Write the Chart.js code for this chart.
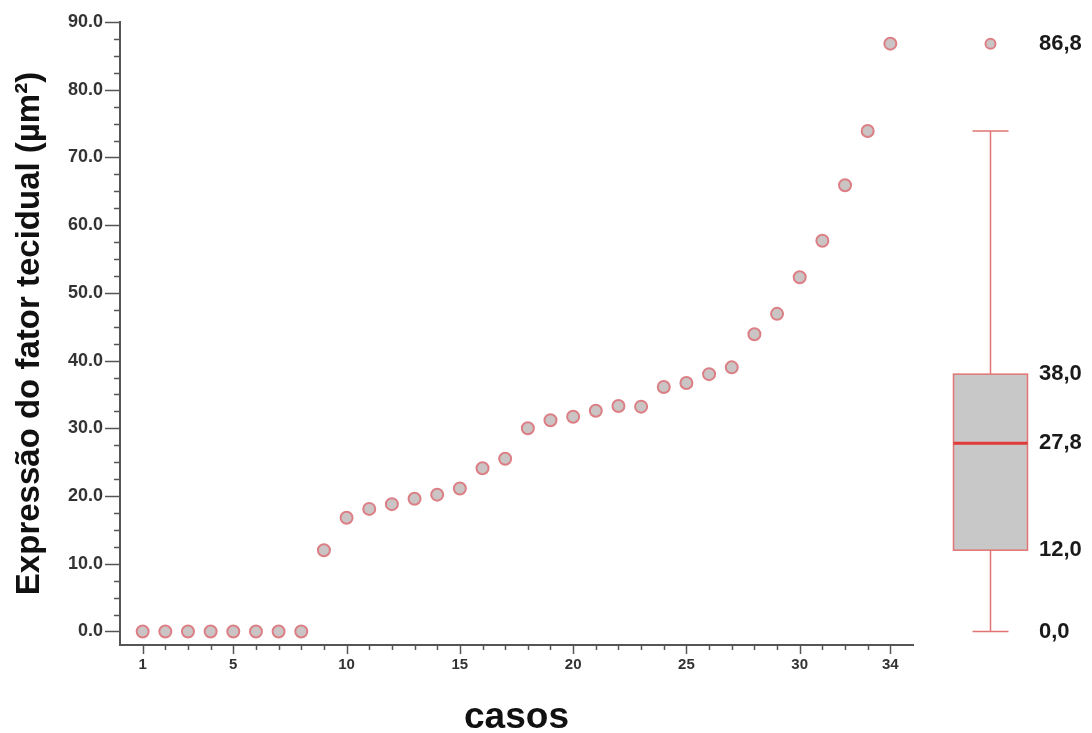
<!DOCTYPE html>
<html><head><meta charset="utf-8">
<script src="https://cdn.jsdelivr.net/npm/chart.js@4"></script>
<style>html,body{margin:0;padding:0;background:#fff}#wrap{width:1092px;height:733px;position:relative}</style>
</head><body><div id="wrap"><canvas id="c"></canvas></div>
<script>
// ---- data ----
const cases = [1,2,3,4,5,6,7,8,9,10,11,12,13,14,15,16,17,18,19,20,21,22,23,24,25,26,27,28,29,30,31,32,33,34];
const values = [0,0,0,0,0,0,0,0,12.0,16.8,18.1,18.8,19.6,20.2,21.1,24.1,25.5,30.0,31.2,31.7,32.6,33.3,33.2,36.1,36.7,38.0,39.0,43.9,46.9,52.3,57.7,65.9,73.9,86.8];
const xTickLabels = [1,5,10,15,20,25,30,34];
const yTickLabels = [0,10,20,30,40,50,60,70,80,90];
const boxStats = [0.0, 12.0, 27.8, 38.0, 73.9];   // whisker low, Q1, median, Q3, whisker high
const boxOutliers = [86.8];
const boxLabels = [86.8, 38.0, 27.8, 12.0, 0.0];

// ---- layout / style constants ----
const BOX_X = 38.4;
const FONT = '"Liberation Sans", Arial, sans-serif';
const pointFill = '#cbc4c5';
const pointBorder = '#dc7f85';
const boxLine = '#e27474';

const tickMarks = {
  id: 'tickMarks',
  afterDraw(chart) {
    const ctx = chart.ctx, xs = chart.scales.x, ys = chart.scales.y;
    const a = chart.chartArea;
    ctx.save();
    ctx.strokeStyle = '#555';
    ctx.lineWidth = 1.5;
    for (let v = 0; v <= 90; v += 2.5) {
      const y = Math.round(ys.getPixelForValue(v)) + 0.5;
      const len = (v % 10 === 0) ? 15 : 6;
      ctx.beginPath(); ctx.moveTo(a.left - len, y); ctx.lineTo(a.left, y); ctx.stroke();
    }
    for (const c of cases) {
      const x = Math.round(xs.getPixelForValue(c)) + 0.5;
      const len = (xTickLabels.includes(c)) ? 9 : 5;
      ctx.beginPath(); ctx.moveTo(x, a.bottom); ctx.lineTo(x, a.bottom + len); ctx.stroke();
    }
    ctx.restore();
  }
};

const boxPlot = {
  id: 'boxPlot',
  afterDatasetsDraw(chart) {
    const ctx = chart.ctx, xs = chart.scales.x, ys = chart.scales.y;
    const cx = Math.round(xs.getPixelForValue(BOX_X)) + 0.5;
    const [lo, q1, med, q3, hi] = boxStats.map(v => ys.getPixelForValue(v));
    const hw = 37, cw = 18;
    ctx.save();
    ctx.strokeStyle = boxLine;
    ctx.lineWidth = 1.5;
    ctx.beginPath();
    ctx.moveTo(cx, hi); ctx.lineTo(cx, q3);
    ctx.moveTo(cx, q1); ctx.lineTo(cx, lo);
    ctx.moveTo(cx - cw, hi); ctx.lineTo(cx + cw, hi);
    ctx.moveTo(cx - cw, lo); ctx.lineTo(cx + cw, lo);
    ctx.stroke();
    ctx.fillStyle = '#c8c8c8';
    ctx.fillRect(cx - hw, q3, hw * 2, q1 - q3);
    ctx.strokeRect(cx - hw, q3, hw * 2, q1 - q3);
    ctx.strokeStyle = '#e03a3a';
    ctx.lineWidth = 3;
    ctx.beginPath(); ctx.moveTo(cx - hw, med); ctx.lineTo(cx + hw, med); ctx.stroke();
    // outliers
    ctx.fillStyle = pointFill;
    ctx.strokeStyle = pointBorder;
    ctx.lineWidth = 2;
    for (const v of boxOutliers) {
      ctx.beginPath(); ctx.arc(cx, ys.getPixelForValue(v), 5, 0, Math.PI * 2);
      ctx.fill(); ctx.stroke();
    }
    ctx.fillStyle = '#1a1a1a';
    ctx.font = 'bold 22px ' + FONT;
    ctx.textAlign = 'left';
    ctx.textBaseline = 'middle';
    for (const v of boxLabels) {
      ctx.fillText(v.toFixed(1).replace('.', ','), 1039, ys.getPixelForValue(v));
    }
    ctx.restore();
  }
};

new Chart(document.getElementById('c'), {
  type: 'scatter',
  data: {
    datasets: [
      {
        data: cases.map((c, i) => ({x: c, y: values[i]})),
        pointRadius: 6, pointBorderWidth: 2,
        backgroundColor: pointFill, borderColor: pointBorder,
        clip: false
      }
    ]
  },
  options: {
    responsive: true, maintainAspectRatio: false, animation: false,
    layout: {padding: {left: 0, right: 179, top: 22, bottom: 0}},
    plugins: {legend: {display: false}, tooltip: {enabled: false}},
    scales: {
      x: {
        type: 'linear', min: 0, max: 35,
        afterFit(s) { s.height = 88; },
        afterBuildTicks(s) { s.ticks = xTickLabels.map(v => ({value: v})); },
        grid: {display: false},
        border: {display: true, color: '#555', width: 2},
        ticks: {color: '#333', font: {family: FONT, size: 15, weight: 'bold'}, padding: 3,
                maxRotation: 0, autoSkip: false, callback: v => String(v)},
        title: {display: true, text: 'casos', color: '#111',
                font: {family: FONT, size: 37, weight: 'bold', lineHeight: 0.81},
                padding: {top: 0, bottom: 0}}
      },
      y: {
        type: 'linear', min: -2, max: 90,
        afterFit(s) { s.width = 120; },
        afterBuildTicks(s) { s.ticks = yTickLabels.map(v => ({value: v})); },
        grid: {display: false},
        border: {display: true, color: '#555', width: 2},
        ticks: {color: '#333', font: {family: FONT, size: 18, weight: 'bold'}, padding: 9,
                autoSkip: false, callback: v => Number(v).toFixed(1)},
        title: {display: true, text: 'Expressão do fator tecidual (µm²)', color: '#111',
                font: {family: FONT, size: 33, weight: 'bold', lineHeight: 1.2},
                padding: {top: 10, bottom: 0}}
      }
    }
  },
  plugins: [tickMarks, boxPlot]
});
</script>
</body></html>
